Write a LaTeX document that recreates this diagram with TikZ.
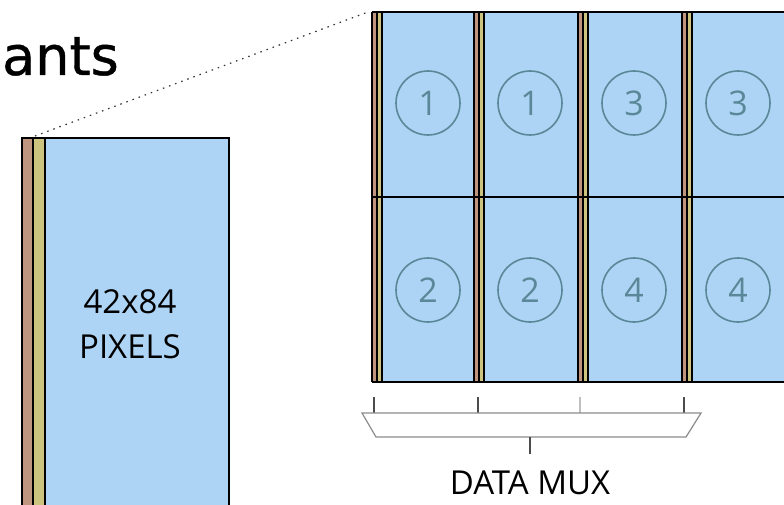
\documentclass[tikz,border=0pt]{standalone}
\usepackage{fontspec}
\setmainfont{Open Sans}
\newfontfamily\titlefont[FakeBold=0.8]{DejaVu Sans}
\definecolor{cellblue}{HTML}{AED4F5}
\definecolor{stripbrown}{HTML}{BF9580}
\definecolor{stripyellow}{HTML}{CCC47E}
\definecolor{circlegray}{HTML}{5A8898}
\definecolor{muxgray}{HTML}{8C8C8C}
\tikzset{
  panelline/.style={draw=black, line width=2},
  stripline/.style={draw=black, line width=1.3},
  numcircle/.style={circle, draw=circlegray, line width=1.6, text=circlegray, minimum size=64, inner sep=0pt, font=\fontsize{34}{36}\selectfont},
  label/.style={font=\fontsize{33}{36}\selectfont, text=black, inner sep=0pt},
  muxline/.style={draw=muxgray, line width=1.2},
}
\begin{document}
\begin{tikzpicture}[x=1pt,y=-1pt]
\useasboundingbox (0,0) rectangle (784,505);
\clip (0,0) rectangle (784,505);
% title
\node[anchor=base east, inner sep=0pt, font=\titlefont\fontsize{54}{58}\selectfont] (title) at (119,75) {ants};
% left panel
\fill[cellblue] (22,138) rectangle (229,520);
\fill[stripbrown] (22,138) rectangle (33,520);
\fill[stripyellow] (33,138) rectangle (45,520);
\draw[stripline] (33,138) -- (33,520) (45,138) -- (45,520);
\draw[panelline] (22,520) -- (22,138) -- (229,138) -- (229,520);
\coordinate (lefttop) at (35,136);
\node[label] (size) at (130,302) {42x84};
\node[label] (pix) at (130,347) {PIXELS};
% right panel
\foreach \x in {372,474,578,682}{
  \fill[cellblue] (\x,12) rectangle ({\x+104},382);
  \fill[stripbrown] (\x,12) rectangle ({\x+5},382);
  \fill[stripyellow] ({\x+5},12) rectangle ({\x+10},382);
  \draw[stripline] ({\x+5},12) -- ({\x+5},382) ({\x+10},12) -- ({\x+10},382);
  \draw[panelline] (\x,12) -- (\x,382);
}
\draw[panelline] (372,12) -- (790,12) (372,197) -- (790,197) (372,382) -- (790,382);
\coordinate (righttop) at (368,12);
\node[numcircle] (c11) at (428,103) {1};
\node[numcircle] (c12) at (530,103) {1};
\node[numcircle] (c13) at (634,103) {3};
\node[numcircle] (c14) at (738,103) {3};
\node[numcircle] (c21) at (428,290) {2};
\node[numcircle] (c22) at (530,290) {2};
\node[numcircle] (c23) at (634,290) {4};
\node[numcircle] (c24) at (738,290) {4};
% zoom line
\draw[black!80, line width=1.2, dash pattern=on 1.5pt off 5pt] (lefttop) -- (righttop);
% data mux
\coordinate (t1a) at (374,397); \coordinate (t1b) at (374,413);
\coordinate (t2a) at (478,397); \coordinate (t2b) at (478,413);
\coordinate (t3a) at (580,397); \coordinate (t3b) at (580,413);
\coordinate (t4a) at (684,397); \coordinate (t4b) at (684,413);
\draw[muxline, draw=black!70] (t1a) -- (t1b) (t2a) -- (t2b) (t4a) -- (t4b);
\draw[muxline, draw=black!25] (t3a) -- (t3b);
\draw[muxline] (362,413) -- (701,413) -- (686,437) -- (376,437) -- cycle;
\coordinate (muxout) at (530,437);
\node[label] (mux) at (530,483) {DATA MUX};
\draw[muxline, draw=black!70] (muxout) -- ([yshift=1pt]mux.north |- 0,455);
\end{tikzpicture}
\end{document}
